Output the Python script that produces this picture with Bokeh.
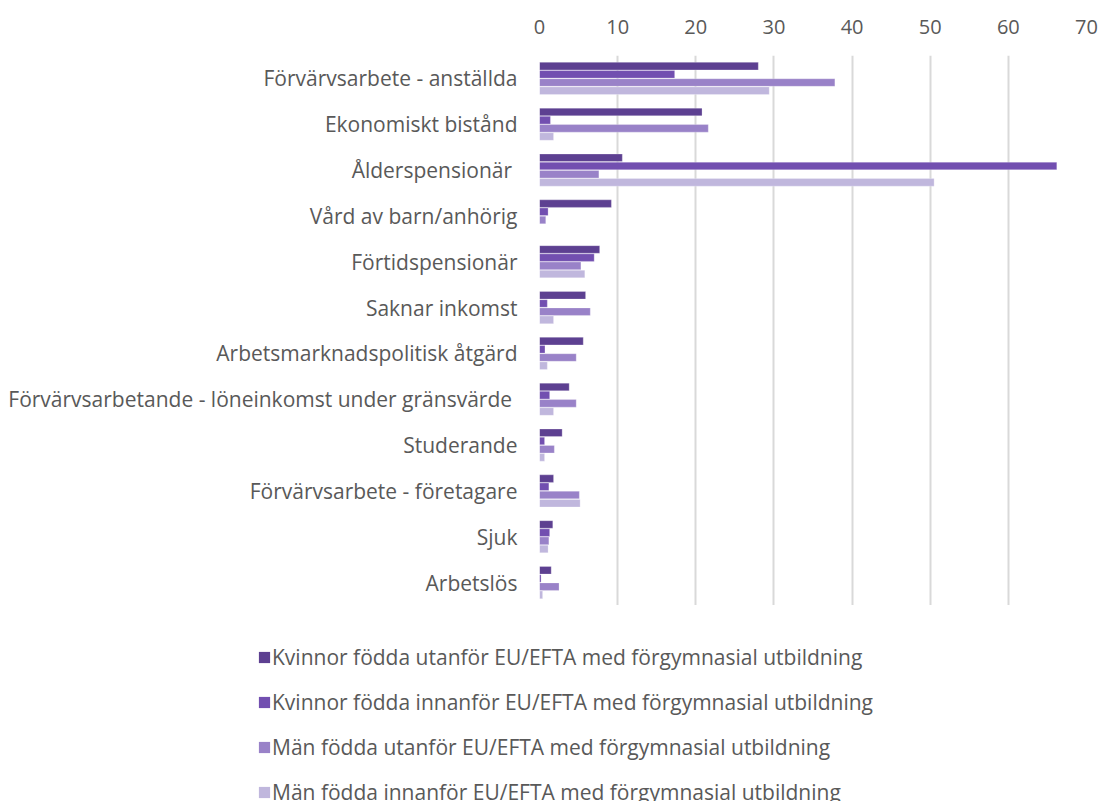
from bokeh.plotting import figure
from bokeh.models import ColumnDataSource, FactorRange, Range1d, LinearAxis, Legend, LegendItem, FixedTicker
from bokeh.transform import dodge
from bokeh.embed import file_html
from bokeh.resources import INLINE

categories = [
    "Förvärvsarbete - anställda",
    "Ekonomiskt bistånd",
    "Ålderspensionär ",
    "Vård av barn/anhörig",
    "Förtidspensionär",
    "Saknar inkomst",
    "Arbetsmarknadspolitisk åtgärd",
    "Förvärvsarbetande - löneinkomst under gränsvärde ",
    "Studerande",
    "Förvärvsarbete - företagare",
    "Sjuk",
    "Arbetslös",
]
kvinnor_utanfor = [28.0, 20.8, 10.6, 9.2, 7.7, 5.9, 5.6, 3.8, 2.9, 1.8, 1.7, 1.5]
kvinnor_innanfor = [17.3, 1.4, 66.2, 1.1, 7.0, 1.0, 0.7, 1.3, 0.65, 1.2, 1.3, 0.2]
man_utanfor = [37.8, 21.6, 7.6, 0.8, 5.3, 6.5, 4.7, 4.7, 1.9, 5.1, 1.2, 2.5]
man_innanfor = [29.4, 1.8, 50.5, 0.0, 5.8, 1.8, 1.0, 1.8, 0.65, 5.2, 1.1, 0.4]
series_names = [
    "Kvinnor födda utanför EU/EFTA med förgymnasial utbildning",
    "Kvinnor födda innanför EU/EFTA med förgymnasial utbildning",
    "Män födda utanför EU/EFTA med förgymnasial utbildning",
    "Män födda innanför EU/EFTA med förgymnasial utbildning",
]
colors = ["#5D4091", "#724FB0", "#9982C8", "#C0B7DD"]
x_ticks = [0, 10, 20, 30, 40, 50, 60, 70]

FONT = "Open Sans"
TXT = "#595959"

src = ColumnDataSource(dict(cat=categories, s0=kvinnor_utanfor, s1=kvinnor_innanfor,
                            s2=man_utanfor, s3=man_innanfor))

p = figure(width=1100, height=605, output_backend="svg", toolbar_location=None,
           y_range=FactorRange(*list(reversed(categories)), range_padding=0),
           x_range=Range1d(0, 70), x_axis_location=None,
           min_border_left=539, min_border_right=14, min_border_top=55, min_border_bottom=0)
p.outline_line_color = None
p.ygrid.grid_line_color = None
p.xgrid.grid_line_color = "#D9D9D9"
p.xgrid.grid_line_width = 2
p.xgrid.ticker = FixedTicker(ticks=x_ticks)

top = LinearAxis(ticker=FixedTicker(ticks=x_ticks))
top.axis_line_color = None
top.major_tick_line_color = None
top.minor_tick_line_color = None
top.major_label_text_font = FONT
top.major_label_text_font_size = "20px"
top.major_label_text_color = TXT
top.major_label_standoff = 16
p.add_layout(top, "above")

ya = p.yaxis[0]
ya.axis_line_color = None
ya.major_tick_line_color = None
ya.minor_tick_line_color = None
ya.major_label_text_font = FONT
ya.major_label_text_font_size = "21px"
ya.major_label_text_color = TXT
ya.major_label_standoff = 16

offsets = [0.268, 0.0895, -0.0895, -0.268]
for i in range(4):
    p.hbar(y=dodge("cat", offsets[i], range=p.y_range), right="s%d" % i, left=0,
           height=0.165, source=src, fill_color=colors[i], line_color="white",
           line_alpha=0.5, line_width=0.5)

# legend panel below the chart (separate root so its frame is not aligned to the chart's)
q = figure(width=1100, height=196, output_backend="svg", toolbar_location=None,
           x_range=Range1d(0, 1), y_range=Range1d(0, 1),
           min_border=0, x_axis_location=None, y_axis_location=None)
q.outline_line_color = None
q.grid.grid_line_color = None
dummy = ColumnDataSource(dict(l=[-10], r=[-9], b=[-10], t=[-9]))
leg_r = [q.quad(left="l", right="r", bottom="b", top="t", source=dummy,
                fill_color=colors[i], line_color=None) for i in range(4)]
legend = Legend(items=[LegendItem(label=series_names[i], renderers=[leg_r[i]]) for i in range(4)],
                location=(257, -5), orientation="vertical",
                label_text_font=FONT, label_text_font_size="21px", label_text_color=TXT,
                glyph_width=14, glyph_height=14, label_height=22, spacing=17,
                label_standoff=1, padding=0, margin=0, border_line_color=None,
                background_fill_alpha=0)
q.add_layout(legend, "center")

open("out.html", "w").write(file_html([p, q], INLINE))
